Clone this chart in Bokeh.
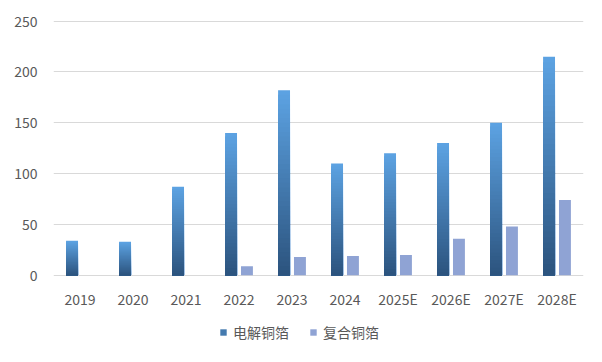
from bokeh.plotting import figure
from bokeh.models import Range1d, Legend, LegendItem, FactorRange
from bokeh.transform import dodge
from bokeh.embed import file_html
from bokeh.resources import INLINE

years = ["2019", "2020", "2021", "2022", "2023", "2024", "2025E", "2026E", "2027E", "2028E"]
electrolytic = [34, 33, 87, 140, 182, 110, 120, 130, 150, 215]
composite = [0, 0, 0, 9, 18, 19, 20, 36, 48, 74]
series_names = ["电解铜箔", "复合铜箔"]

FONT = "Noto Sans CJK SC"
TOP_RGB = (0x5c, 0xa2, 0xe2)
BOT_RGB = (0x2b, 0x52, 0x7c)
GRAY = "#8fa3d4"

# frame extends below zero to host the legend (side-panel legend collapses the layout)
p = figure(x_range=FactorRange(*years), y_range=Range1d(-72, 250.6),
           width=594, height=354, output_backend="svg", toolbar_location=None,
           min_border_left=53, min_border_right=11, min_border_top=20, min_border_bottom=6)
p.outline_line_color = None

# gradient-like blue bars: layered bars, tallest (lightest) first
N = 40
layers = []
for k in range(N, 0, -1):
    f = k / N
    c = tuple(int(round(BOT_RGB[i] + (TOP_RGB[i] - BOT_RGB[i]) * f)) for i in range(3))
    col = "#%02x%02x%02x" % c
    tops = [v * f for v in electrolytic]
    layers.append(p.vbar(x=dodge("x", -0.15, range=p.x_range), top="top", width=0.225,
                         source=dict(x=years, top=tops), fill_color=col, line_color=None))

r2 = p.vbar(x=dodge("x", 0.15, range=p.x_range), top="top", width=0.225,
            source=dict(x=years, top=composite), fill_color=GRAY, line_color=None)

legend = Legend(items=[LegendItem(label=series_names[0], renderers=[layers[N // 2]], index=0),
                       LegendItem(label=series_names[1], renderers=[r2], index=0)],
                orientation="horizontal", location=(166, 6))
legend.label_text_font = FONT
legend.label_text_font_size = "14px"
legend.label_text_color = "#595959"
legend.glyph_width = 8
legend.glyph_height = 8
legend.label_standoff = 6
legend.spacing = 20
legend.padding = 4
legend.margin = 0
legend.border_line_color = None
legend.background_fill_alpha = 0
p.add_layout(legend, "center")

p.xgrid.grid_line_color = None
p.ygrid.grid_line_color = "#d9d9d9"
p.ygrid.grid_line_width = 1

p.yaxis.ticker = [0, 50, 100, 150, 200, 250]
for ax in (p.xaxis[0], p.yaxis[0]):
    ax.major_tick_line_color = None
    ax.minor_tick_line_color = None
    ax.major_label_text_font = FONT
    ax.major_label_text_font_size = "14px"
    ax.major_label_text_color = "#595959"
    ax.axis_line_color = None
p.yaxis.major_label_standoff = 10
p.xaxis.major_label_standoff = -66

open("out.html", "w").write(file_html(p, INLINE))
